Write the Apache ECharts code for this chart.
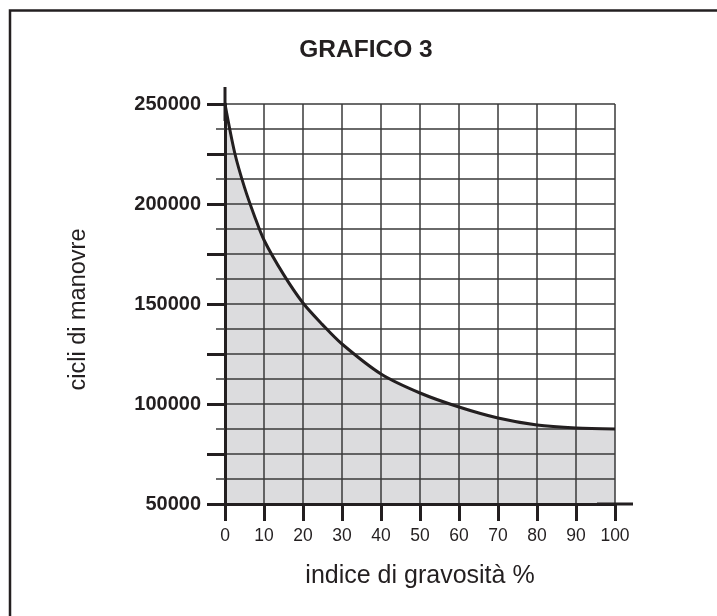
<!DOCTYPE html>
<html>
<head>
<meta charset="utf-8">
<script src="https://cdn.jsdelivr.net/npm/echarts@6/dist/echarts.min.js"></script>
<style>
  html, body { margin: 0; padding: 0; background: #ffffff; }
  #chart { width: 717px; height: 616px; }
</style>
</head>
<body>
<div id="chart"></div>
<script>
// Indice di gravosità (%) and corresponding cycle counts along the curve
const gravosita = [0, 2.5, 5, 7.5, 10, 15, 20, 25, 30, 40, 50, 60, 70, 80, 90, 100];
const cicli = [250000, 225500, 208300, 194300, 182000, 164800, 150500, 139700, 130000, 115000, 105500, 98500, 93000, 89500, 88000, 87500];

const titleText = 'GRAFICO 3';
const xName = 'indice di gravosità %';
const yName = 'cicli di manovre';
const yLabelStep = 50000;

const ink = '#231f20';
const gridInk = '#3a3a3a';
const fill = '#dcdcde';
const font = 'Arial, "Liberation Sans", Helvetica, sans-serif';

const points = gravosita.map((x, i) => [x, cicli[i]]);

const chart = echarts.init(document.getElementById('chart'), null, { renderer: 'canvas' });

chart.setOption({
  backgroundColor: '#ffffff',
  animation: false,
  title: {
    text: titleText,
    left: 361,
    top: 33,
    textAlign: 'center',
    textStyle: { fontFamily: font, fontWeight: 'bold', fontSize: 24.5, color: ink }
  },
  graphic: [{
    type: 'rect',
    shape: { x: 10, y: 10.5, width: 900, height: 900 },
    style: { fill: 'none', stroke: ink, lineWidth: 2.5 },
    silent: true
  }],
  grid: { left: 225, right: 102, top: 104, bottom: 112, containLabel: false },
  xAxis: {
    type: 'value',
    min: 0, max: 100, interval: 10,
    z: 2,
    name: xName,
    nameLocation: 'middle',
    nameGap: 60,
    nameTextStyle: { fontFamily: font, fontSize: 25, color: ink },
    axisLine: { show: true, symbol: ['none', 'rect'], symbolSize: [3, 36], lineStyle: { color: ink, width: 3 } },
    axisTick: { show: true, length: 17, lineStyle: { color: ink, width: 3 } },
    axisLabel: { margin: 23, fontFamily: font, fontSize: 17.5, color: ink },
    splitLine: { show: true, lineStyle: { color: gridInk, width: 1.5 } }
  },
  yAxis: {
    type: 'value',
    min: 50000, max: 250000, interval: 25000,
    z: 2,
    name: yName,
    nameLocation: 'middle',
    nameGap: 134,
    nameRotate: 90,
    nameTextStyle: { fontFamily: font, fontSize: 23.5, color: ink, padding: [0, 11, 0, 0] },
    axisLine: { show: true, symbol: ['none', 'rect'], symbolSize: [3, 34], lineStyle: { color: ink, width: 3 } },
    axisTick: { show: true, length: 18, lineStyle: { color: ink, width: 3 } },
    minorTick: { show: true, splitNumber: 2, length: 9, lineStyle: { color: gridInk, width: 1.5 } },
    axisLabel: {
      margin: 24,
      fontFamily: font, fontSize: 20, fontWeight: 'bold', color: ink,
      formatter: v => (v % yLabelStep === 0 ? String(v) : '')
    },
    splitLine: { show: true, lineStyle: { color: gridInk, width: 1.5 } },
    minorSplitLine: { show: true, lineStyle: { color: gridInk, width: 1.5 } }
  },
  series: [
    {
      // shaded region under the curve, kept beneath the grid lines
      type: 'line',
      z: 1,
      data: points,
      smooth: 0.3,
      symbol: 'none',
      lineStyle: { width: 0, opacity: 0 },
      areaStyle: { color: fill, opacity: 1 },
      silent: true
    },
    {
      // the curve itself, above the grid
      type: 'line',
      z: 3,
      data: points,
      smooth: 0.3,
      symbol: 'none',
      lineStyle: { color: ink, width: 3 },
      silent: true
    }
  ]
});
</script>
</body>
</html>
